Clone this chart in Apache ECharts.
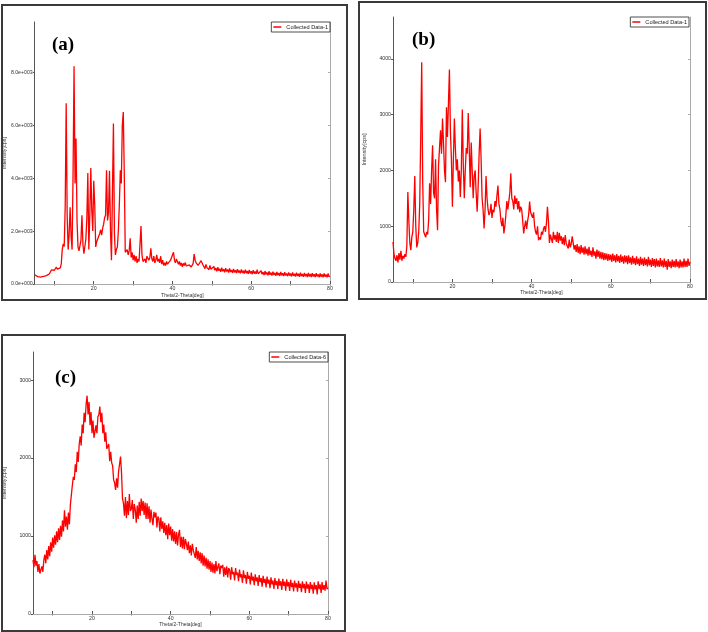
<!DOCTYPE html>
<html>
<head>
<meta charset="utf-8">
<script src="https://cdn.jsdelivr.net/npm/echarts/dist/echarts.min.js"></script>
<style>
html,body{margin:0;padding:0;background:#fff;}
#chart{width:708px;height:632px;}
</style>
</head>
<body>
<div id="chart"></div>
<script>
// Scan grid of the diffractometer (2-theta, degrees)
const startDeg = 5;
const stepDeg = 0.25;

// Panel (a) intensities, one row per degree (x.00, x.25, x.50, x.75)
const intensityA = [
350,320,305,280, 265,250,262,248, 270,285,300,288, 315,360,335,385,
430,530,455,470, 520,480,640,560, 500,545,610,760, 1300,1520,1420,2900,
6830,2600,1300,1900, 2900,1800,1300,4200, 8230,3800,5500,2400, 1400,1250,1320,1650,
2600,1500,1150,1220, 1700,2500,4190,1300, 2600,4380,2800,2000, 3900,3000,1400,1600,
1700,1650,1900,2050, 1850,2100,2250,2500, 2600,4300,2400,2700, 4280,2000,900,3500,
6060,1900,1100,1300, 1400,2000,3000,4300, 3800,6000,6500,4200, 1200,1150,1300,1100,
1250,1730,1000,1200, 900,1100,850,1050, 800,950,850,900, 2190,1100,850,900,
950,800,1050,1100, 900,1000,1350,950, 850,1050,800,900, 1100,850,950,800,
1050,750,900,700, 800,700,850,750, 800,700,900,850, 950,1200,900,800,
950,1000,750,850, 700,800,650,780, 700,810,680,750, 650,720,760,640,
700,780,1130,900, 800,750,700,760, 680,880,800,720, 680,580,740,620,
640,540,700,560, 620,500,660,520, 600,480,640,500, 580,460,620,480,
560,440,600,470, 550,430,590,450, 530,420,570,440, 520,410,560,430,
510,400,550,420, 500,390,540,410, 490,380,530,400, 480,370,520,390,
470,380,540,390, 460,350,500,370, 450,340,490,360, 440,330,480,350,
430,320,470,340, 420,310,460,330, 415,305,455,325, 410,300,450,320,
400,295,440,315, 395,285,435,305, 390,280,430,300, 385,275,425,295,
380,270,420,290, 375,265,415,285, 375,265,410,285, 370,260,405,280,
365,255,400,275, 365,255,400,275, 360,250,395,270,
300
];

// Panel (b) intensities
const intensityB = [
720,500,420,380, 480,350,520,400, 560,380,470,420, 500,450,650,1615,
1100,700,570,800, 900,1300,1900,1000, 620,700,900,1400, 2600,3940,1800,900,
850,800,900,850, 1100,1770,1400,2000, 2450,1600,1500,2200, 1300,930,2100,2400,
2720,2300,2930,2500, 2000,1790,3130,2600, 3200,3810,2700,2200, 1350,2200,2930,2400,
2000,2200,1800,2000, 1525,2000,3090,2100, 1500,2000,2400,2300, 3030,2400,1700,2500,
2000,1500,1900,2000, 1600,1260,1700,2300, 2750,2200,1500,1300, 960,1300,1900,1500,
1300,1200,1250,1400, 1150,1300,1250,1450, 1350,1550,1730,1400, 1300,1100,1000,1150,
870,1000,1200,1450, 1300,1450,1600,1950, 1500,1450,1300,1550, 1400,1500,1300,1450,
1250,1350,1300,1100, 870,1000,1100,950, 1100,1200,1440,1250, 1200,1150,1250,1000,
900,850,1000,750, 800,760,900,850, 950,1000,900,1050, 1350,1100,700,850,
820,700,900,760, 840,720,900,700, 880,740,820,680, 800,660,840,690,
720,600,760,620, 680,820,700,580, 660,540,680,520, 640,500,660,520,
620,490,640,500, 600,470,630,480, 560,450,620,470, 550,420,580,450,
560,420,540,410, 530,390,520,400, 510,380,500,390, 490,360,510,380,
480,350,500,370, 470,340,490,360, 460,330,480,350, 470,320,480,340,
440,310,470,330, 430,300,460,320, 420,290,450,310, 420,290,440,300,
410,280,450,300, 400,270,430,290, 410,260,420,280, 390,270,430,280,
390,260,420,270, 380,220,410,270, 370,250,400,270, 380,260,410,270,
370,250,400,260, 370,260,420,270, 380,270,420,290,
360
];

// Panel (c) intensities
const intensityC = [
690,600,760,620, 680,540,640,520, 500,610,540,690, 760,650,820,700,
870,740,920,800, 980,850,1010,890, 1060,920,1100,950, 1130,990,1200,1060,
1330,1120,1250,1080, 1300,1150,1400,1420, 1650,1760,1720,1920, 1820,2080,1950,2180,
2280,2160,2430,2320, 2580,2460,2690,2800, 2560,2720,2420,2590, 2320,2480,2260,2270,
2420,2320,2530,2560, 2660,2460,2580,2320, 2430,2210,2330,2120, 2140,2180,1960,2080,
1940,1900,1720,1680, 1590,1740,1620,1830, 1920,2020,1820,1480, 1420,1260,1500,1230,
1450,1270,1540,1320, 1350,1460,1220,1410, 1340,1170,1390,1220, 1440,1260,1480,1320,
1450,1270,1430,1220, 1420,1220,1380,1170, 1340,1220,1140,1310, 1240,1300,1110,1250,
1220,1060,1240,1090, 1190,1040,1170,1010, 1140,960,1160,1010, 1120,940,1090,930,
1060,900,1050,880, 1020,1080,860,990, 840,990,830,960, 900,820,930,780,
880,750,900,820, 840,720,860,700, 810,680,790,650, 780,620,750,610,
720,580,700,570, 680,540,660,530, 640,520,680,550, 600,650,510,620,
590,630,480,600, 500,610,470,590, 560,440,600,510, 540,430,590,500,
530,420,570,470, 510,400,560,460, 500,390,540,450, 490,380,530,430,
480,370,510,420, 470,360,500,410, 460,350,490,400, 450,340,480,390,
440,330,470,380, 430,320,460,370, 425,320,455,365, 420,310,450,360,
415,300,445,355, 410,295,440,345, 400,290,430,340, 395,285,425,335,
390,280,420,330, 385,270,415,325, 380,270,410,320, 375,260,405,315,
370,250,420,320, 380,270,410,310, 370,300,430,320,
340
];

// Axis ticks and labels
const xLabelValues = [20, 40, 60, 80];
const xTickValues = [10, 20, 30, 40, 50, 60, 70, 80];
const yTicksA = [0, 2000, 4000, 6000, 8000];
const yLabelsA = ['0.0e+000', '2.0e+003', '4.0e+003', '6.0e+003', '8.0e+003'];
const yTicksB = [0, 1000, 2000, 3000, 4000];
const yLabelsB = ['0', '1000', '2000', '3000', '4000'];
const yTicksC = [0, 1000, 2000, 3000];
const yLabelsC = ['0', '1000', '2000', '3000'];
const seriesNames = ['Collected Data-1', 'Collected Data-1', 'Collected Data-6'];
const panelLabels = ['(a)', '(b)', '(c)'];
const xAxisTitle = 'Theta/2-Theta[deg]';
const yAxisTitle = 'Intensity[cps]';

function toPoints(arr) {
  return arr.map((v, i) => [startDeg + i * stepDeg, v]);
}

const FONT = 'Liberation Sans';
const panels = [
  { grid: {left: 33, top: 22, width: 297, height: 262}, yMax: 9900, ticks: yTicksA, labels: yLabelsA, data: intensityA,
    legendRight: 378, legendTop: 22, frame: [2, 5, 345, 295], label: [52, 36], yNameGap: 26, xNameGap: 9 },
  { grid: {left: 393, top: 17, width: 297, height: 265}, yMax: 4750, ticks: yTicksB, labels: yLabelsB, data: intensityB,
    legendRight: 19, legendTop: 17, frame: [359, 2, 347, 297], label: [412, 31], yNameGap: 26, xNameGap: 8 },
  { grid: {left: 33, top: 352, width: 295, height: 262}, yMax: 3360, ticks: yTicksC, labels: yLabelsC, data: intensityC,
    legendRight: 380, legendTop: 352, frame: [2, 335, 343, 296], label: [55, 369], yNameGap: 26, xNameGap: 8 }
];

const grids = [], xAxes = [], yAxes = [], series = [], legends = [], graphics = [];
panels.forEach((p, i) => {
  grids.push(Object.assign({containLabel: false}, p.grid));
  xAxes.push({
    type: 'value', gridIndex: i, min: 5, max: 80, position: 'bottom',
    splitLine: {show: false},
    axisLine: {show: true, lineStyle: {color: '#555', width: 1}},
    axisTick: {show: true, inside: true, length: 3, customValues: xTickValues, lineStyle: {color: '#555'}},
    axisLabel: {show: true, customValues: xLabelValues, fontSize: 5.2, fontFamily: FONT, color: '#333', margin: 2},
    name: xAxisTitle, nameLocation: 'middle', nameGap: p.xNameGap,
    nameTextStyle: {fontSize: 5, fontFamily: FONT, color: '#333'}
  });
  xAxes.push({
    type: 'value', gridIndex: i, min: 5, max: 80, position: 'top',
    splitLine: {show: false},
    axisLine: {show: true, lineStyle: {color: '#aaa', width: 1}},
    axisTick: {show: true, inside: true, length: 2, customValues: xTickValues, lineStyle: {color: '#aaa'}},
    axisLabel: {show: false}
  });
  yAxes.push({
    type: 'value', gridIndex: i, min: 0, max: p.yMax, position: 'left',
    splitLine: {show: false},
    axisLine: {show: true, lineStyle: {color: '#555', width: 1}},
    axisTick: {show: true, inside: false, length: 2, customValues: p.ticks, lineStyle: {color: '#555'}},
    axisLabel: {show: true, customValues: p.ticks, fontSize: 5.2, fontFamily: FONT, color: '#333', margin: 2,
      formatter: (v) => { const k = p.ticks.indexOf(v); return k >= 0 ? p.labels[k] : ''; }},
    name: yAxisTitle, nameLocation: 'middle', nameGap: p.yNameGap, nameRotate: 90,
    nameTextStyle: {fontSize: 5.5, fontFamily: FONT, color: '#333'}
  });
  yAxes.push({
    type: 'value', gridIndex: i, min: 0, max: p.yMax, position: 'right',
    splitLine: {show: false},
    axisLine: {show: true, lineStyle: {color: '#aaa', width: 1}},
    axisTick: {show: true, inside: true, length: 2, customValues: p.ticks, lineStyle: {color: '#aaa'}},
    axisLabel: {show: false}
  });
  series.push({
    type: 'line', name: seriesNames[i], xAxisIndex: 2 * i, yAxisIndex: 2 * i,
    data: toPoints(p.data), symbol: 'none', showSymbol: false, animation: false,
    lineStyle: {color: '#ff0000', width: 1.3}, itemStyle: {color: '#ff0000'}
  });
  legends.push({
    data: [seriesNames[i]], right: p.legendRight, top: p.legendTop, orient: 'horizontal',
    padding: [2, 2, 2, 2], itemWidth: 8, itemHeight: 1.5, icon: 'rect', itemGap: 0,
    borderColor: '#222', borderWidth: 0.8, borderRadius: 0, backgroundColor: '#fff',
    selectedMode: false,
    textStyle: {fontSize: 5.6, fontFamily: FONT, color: '#222', padding: [0, 0, 0, 0]}
  });
  graphics.push({
    type: 'rect', silent: true, z: 100,
    shape: {x: p.frame[0], y: p.frame[1], width: p.frame[2], height: p.frame[3]},
    style: {fill: 'none', stroke: '#3a3a3a', lineWidth: 2}
  });
  graphics.push({
    type: 'text', silent: true, z: 100, x: p.label[0], y: p.label[1],
    style: {text: panelLabels[i], font: 'bold 19px "Liberation Serif"', fill: '#000', textVerticalAlign: 'top'}
  });
});

const chart = echarts.init(document.getElementById('chart'));
chart.setOption({
  animation: false,
  backgroundColor: '#fff',
  grid: grids,
  xAxis: xAxes,
  yAxis: yAxes,
  legend: legends,
  series: series,
  graphic: graphics
});
</script>
</body>
</html>
